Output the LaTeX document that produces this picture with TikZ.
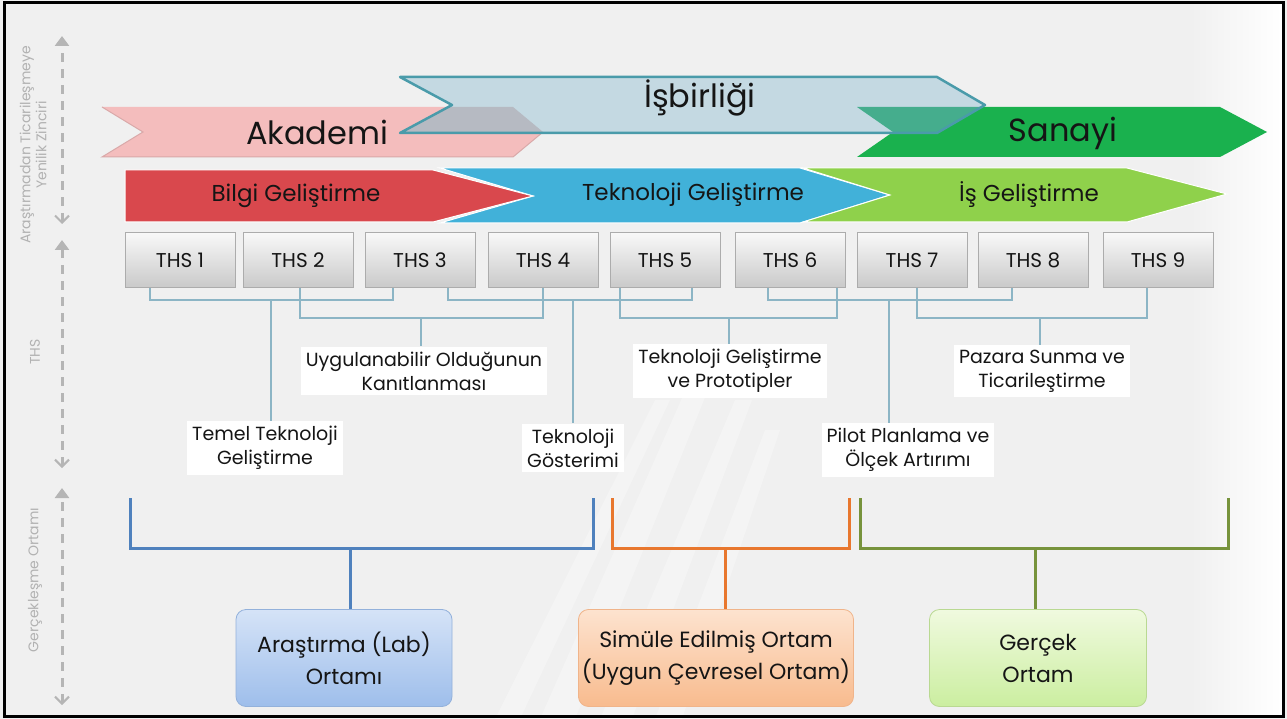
\documentclass[tikz,border=0pt]{standalone}
\usepackage{fontspec}
\setmainfont{Poppins}
\usetikzlibrary{arrows.meta,calc}
\definecolor{bgc}{HTML}{F0F0F0}
\definecolor{akad}{HTML}{F4BDBD}
\definecolor{akadedge}{HTML}{D9A9A9}
\definecolor{isb}{HTML}{C4D9E2}
\definecolor{isbedge}{HTML}{4A9BAA}
\definecolor{san}{HTML}{1AB14E}
\definecolor{ovA}{HTML}{B6BAC2}
\definecolor{ovS}{HTML}{45AD8D}
\definecolor{bilgi}{HTML}{D9484D}
\definecolor{tekno}{HTML}{41B1D9}
\definecolor{isg}{HTML}{8FD14B}
\definecolor{brc}{HTML}{8CB5C5}
\definecolor{axc}{HTML}{B5B5B5}
\definecolor{blueL}{HTML}{4F81BD}
\definecolor{orangeL}{HTML}{E8772E}
\definecolor{greenL}{HTML}{77933C}
\definecolor{txt}{HTML}{151515}
\definecolor{bTop}{HTML}{D5E3F7}
\definecolor{bBot}{HTML}{9EBEEB}
\definecolor{bEdge}{HTML}{93B1DB}
\definecolor{oTop}{HTML}{FDE3CF}
\definecolor{oBot}{HTML}{F8BB8E}
\definecolor{oEdge}{HTML}{F0B48A}
\definecolor{gTop}{HTML}{F0FADF}
\definecolor{gBot}{HTML}{CBEEA0}
\definecolor{gEdge}{HTML}{B9D992}
\tikzset{
  thsbox/.style={draw=gray!65, top color=gray!5, bottom color=gray!42, minimum width=110pt, minimum height=55pt, inner sep=0pt, text=txt, font=\fontsize{20}{22}\selectfont},
  br/.style={draw=brc, line width=1.5pt},
  lab/.style={fill=white, align=center, inner sep=5pt, text=txt, font=\fontsize{19}{24}\selectfont},
  bigtxt/.style={text=txt, font=\fontsize{32}{36}\selectfont},
  rowtxt/.style={text=txt, font=\fontsize{23}{26}\selectfont},
  axtxt/.style={rotate=90, align=center, text=gray!60, font=\fontsize{14}{16}\selectfont},
  axarrow/.style={draw=axc, line width=3pt, dash pattern=on 9pt off 7pt, {Straight Barb[width=14pt,length=7pt,line width=2pt]}-{Triangle[width=14pt,length=10pt]}},
  envbr/.style={line width=3pt},
  envbox/.style={rounded corners=10pt, minimum height=97pt, align=center, text=txt, font=\fontsize{22}{32}\selectfont, line width=0.8pt},
  ray/.style={white, opacity=0.28},
}
\begin{document}
\begin{tikzpicture}[x=1pt,y=-1pt]
\useasboundingbox (0,0) rectangle (1287,719);
\fill[bgc] (0,0) rectangle (1287,719);
% faint light streaks of the background
\fill[ray] (540,719) -- (690,380) -- (712,380) -- (575,719) -- cycle;
\fill[ray] (600,719) -- (735,400) -- (752,400) -- (632,719) -- cycle;
\fill[ray] (655,719) -- (765,430) -- (780,430) -- (682,719) -- cycle;
\fill[ray] (495,719) -- (655,400) -- (670,400) -- (520,719) -- cycle;
\shade[left color=bgc, right color=white] (1190,5) rectangle (1282,714);

% left axis
\draw[axarrow] (62,224) -- (62,36);
\draw[axarrow] (62,468) -- (62,240);
\draw[axarrow] (62,705) -- (62,488);
\node[axtxt] (ax1) at (33,145) {Araştırmadan Ticarileşmeye\\Yenilik Zinciri};
\node[axtxt] (ax2) at (35,352) {THS};
\node[axtxt] (ax3) at (35,580) {Gerçekleşme Ortamı};

% row 1 banners
\def\akadpath{(102,107) -- (513,107) -- (543,132) -- (513,157) -- (102,157) -- (143,132) -- cycle}
\def\isbpath{(400,77) -- (937,77) -- (985,105) -- (937,133) -- (400,133) -- (452,105) -- cycle}
\def\sanpath{(857,107) -- (1220,107) -- (1267,132) -- (1220,157) -- (857,157) -- (893,132) -- cycle}
\fill[akad] \akadpath;
\draw[akadedge, line width=1pt] (102,107) -- (143,132) -- (102,157) -- (513,157) -- (543,132);
\fill[san] \sanpath;
\fill[isb] \isbpath;
\begin{scope}
  \clip \akadpath;
  \fill[ovA] \isbpath;
\end{scope}
\begin{scope}
  \clip \sanpath;
  \fill[ovS] \isbpath;
\end{scope}
\draw[isbedge, line width=2.5pt, line join=round] \isbpath;
\node[bigtxt] (akademi) at (317,132) {Akademi};
\node[bigtxt] (isbirligi) at (700,98) {İşbirliği};
\node[bigtxt] (sanayi) at (1063,133) {Sanayi};

% row 2 banners
\fill[tekno, draw=white, line width=1pt] (440,168) -- (800,168) -- (890,195) -- (800,223) -- (440,223) -- (533,196) -- cycle;
\fill[isg, draw=white, line width=1pt] (803,168) -- (1127,168) -- (1227,194) -- (1127,222) -- (803,222) -- (890,195) -- cycle;
\fill[bilgi, draw=white, line width=1pt] (125,170) -- (433,170) -- (533,196) -- (433,222) -- (125,222) -- cycle;
\node[rowtxt] (bilgi) at (296,196) {Bilgi Geliştirme};
\node[rowtxt] (tekno) at (693,195) {Teknoloji Geliştirme};
\node[rowtxt] (isg) at (1029,195) {İş Geliştirme};

% THS boxes
\node[thsbox] (t1) at (180,260) {THS 1};
\node[thsbox] (t2) at (298,260) {THS 2};
\node[thsbox] (t3) at (420,260) {THS 3};
\node[thsbox] (t4) at (543,260) {THS 4};
\node[thsbox] (t5) at (665,260) {THS 5};
\node[thsbox] (t6) at (790,260) {THS 6};
\node[thsbox] (t7) at (912,260) {THS 7};
\node[thsbox] (t8) at (1033,260) {THS 8};
\node[thsbox] (t9) at (1158,260) {THS 9};

% labels
\node[lab] (l1) at (265,448) {Temel Teknoloji\\Geliştirme};
\node[lab] (l2) at (424,371) {Uygulanabilir Olduğunun\\Kanıtlanması};
\node[lab] (l3) at (573,448) {Teknoloji\\Gösterimi};
\node[lab] (l4) at (730,371) {Teknoloji Geliştirme\\ve Prototipler};
\node[lab] (l5) at (908,450) {Pilot Planlama ve\\Ölçek Artırımı};
\node[lab] (l6) at (1042,371) {Pazara Sunma ve\\Ticarileştirme};

% brackets (upper level y=300, lower level y=318)
\draw[br] (150,0 |- t1.south) -- (150,300) -- (393,300) -- (393,0 |- t3.south);
\draw[br] (271,300) -- (271,0 |- l1.north);
\draw[br] (300,0 |- t2.south) -- (300,318) -- (543,318) -- (543,0 |- t4.south);
\draw[br] (421,318) -- (421,0 |- l2.north);
\draw[br] (448,0 |- t3.south) -- (448,300) -- (692,300) -- (692,0 |- t5.south);
\draw[br] (573,300) -- (573,0 |- l3.north);
\draw[br] (620,0 |- t5.south) -- (620,318) -- (837,318) -- (837,0 |- t6.south);
\draw[br] (729,318) -- (729,0 |- l4.north);
\draw[br] (768,0 |- t6.south) -- (768,300) -- (1012,300) -- (1012,0 |- t8.south);
\draw[br] (889,300) -- (889,0 |- l5.north);
\draw[br] (917,0 |- t7.south) -- (917,318) -- (1147,318) -- (1147,0 |- t9.south);
\draw[br] (1040,318) -- (1040,0 |- l6.north);

% environment boxes
\node[envbox, minimum width=216pt, draw=bEdge, top color=bTop, bottom color=bBot] (e1) at (344,658) {Araştırma (Lab)\\Ortamı};
\node[envbox, minimum width=267pt, draw=oEdge, top color=oTop, bottom color=oBot] (e2) at (716,658) {Simüle Edilmiş Ortam\\(Uygun Çevresel Ortam)};
\node[envbox, minimum width=217pt, draw=gEdge, top color=gTop, bottom color=gBot] (e3) at (1038,658) {Gerçek\\Ortam};

% environment brackets
\draw[envbr, blueL] (130,498) -- (130,548) -- (593,548) -- (593,498);
\draw[envbr, blueL] (350,548) -- (350,0 |- e1.north);
\draw[envbr, orangeL] (612,498) -- (612,548) -- (849,548) -- (849,498);
\draw[envbr, orangeL] (725,548) -- (725,0 |- e2.north);
\draw[envbr, greenL] (860,498) -- (860,548) -- (1228,548) -- (1228,498);
\draw[envbr, greenL] (1035,548) -- (1035,0 |- e3.north);

% frame
\draw[line width=3pt] (4.5,3) rectangle (1283,716);
\end{tikzpicture}
\end{document}
